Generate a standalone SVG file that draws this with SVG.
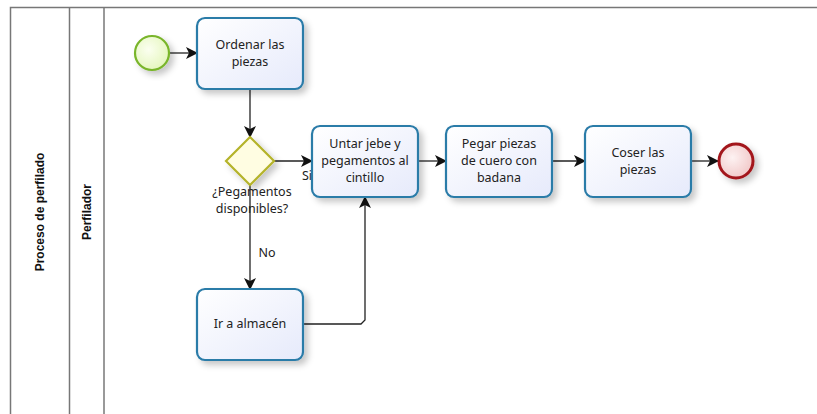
<svg xmlns="http://www.w3.org/2000/svg" width="817" height="414" viewBox="0 0 817 414">
<defs>
<linearGradient id="tg" x1="0" y1="0" x2="1" y2="1"><stop offset="0" stop-color="#ffffff"/><stop offset="1" stop-color="#e6eafb"/></linearGradient>
<radialGradient id="sg" cx="0.4" cy="0.4" r="0.7"><stop offset="0" stop-color="#fbfff0"/><stop offset="1" stop-color="#e2f5b8"/></radialGradient>
<radialGradient id="eg" cx="0.4" cy="0.4" r="0.7"><stop offset="0" stop-color="#fdf2f2"/><stop offset="1" stop-color="#f0c4c4"/></radialGradient>
<filter id="sh" x="-20%" y="-20%" width="150%" height="150%"><feDropShadow dx="4" dy="4" stdDeviation="3" flood-color="#000" flood-opacity="0.22"/></filter>
<marker id="ah" viewBox="0 0 12 12" refX="11" refY="6" markerWidth="12" markerHeight="12" markerUnits="userSpaceOnUse" orient="auto"><path d="M0,0 L12,6 L0,12 L3,6 Z" fill="#111"/></marker>
</defs>
<style>
.task{fill:url(#tg);stroke:#2a7ba8;stroke-width:2.2;filter:url(#sh)}
.t{font-family:"Noto Sans","DejaVu Sans",sans-serif;font-size:12.5px;fill:#222;text-anchor:middle}
.lane{fill:none;stroke:#777;stroke-width:1.5}
.ln{font-family:"Liberation Sans",Arial,sans-serif;font-size:12px;font-weight:bold;fill:#111;text-anchor:middle}
.c{fill:none;stroke:#222;stroke-width:1.3;marker-end:url(#ah)}
</style>
<g id="pool">
<path class="lane" d="M817,7.5 H10.5 V414"/>
<line class="lane" x1="69.5" y1="7.5" x2="69.5" y2="414" stroke="#999"/>
<line class="lane" x1="104" y1="7.5" x2="104" y2="414" stroke="#999"/>
<text class="ln" transform="translate(44,212) rotate(-90)">Proceso de perfilado</text>
<text class="ln" transform="translate(91,212) rotate(-90)">Perfilador</text>
</g>
<g id="connectors">
<line class="c" x1="170" y1="53" x2="197" y2="53"/>
<line class="c" x1="250" y1="89" x2="250" y2="137"/>
<line class="c" x1="274" y1="161" x2="312" y2="161"/>
<line class="c" x1="418" y1="161" x2="446" y2="161"/>
<line class="c" x1="552" y1="161" x2="585" y2="161"/>
<line class="c" x1="691" y1="161" x2="718" y2="161"/>
<line class="c" x1="250" y1="185" x2="250" y2="289"/>
<path class="c" d="M303,324 H361 L365,320 V197"/>
<text class="t" x="307" y="180">Si</text>
<text class="t" x="267" y="257">No</text>
</g>
<g id="start"><circle cx="152" cy="53" r="17" fill="url(#sg)" stroke="#79b52a" stroke-width="2.2" filter="url(#sh)"/></g>
<g id="ordenar"><rect class="task" x="197" y="18" width="106" height="71" rx="8"/><text class="t" x="250" y="49">Ordenar  las</text><text class="t" x="250" y="66">piezas</text></g>
<g id="gateway"><polygon points="250,137 274,161 250,185 226,161" fill="#fffde2" stroke="#b4b32a" stroke-width="2.2" filter="url(#sh)"/><text class="t" x="252" y="196">¿Pegamentos</text><text class="t" x="252" y="213">disponibles?</text></g>
<g id="untar"><rect class="task" x="312" y="126" width="106" height="71" rx="8"/><text class="t" x="365" y="148">Untar  jebe y</text><text class="t" x="365" y="165">pegamentos al</text><text class="t" x="365" y="182">cintillo</text></g>
<g id="pegar"><rect class="task" x="446" y="126" width="106" height="71" rx="8"/><text class="t" x="499" y="148">Pegar piezas</text><text class="t" x="499" y="165">de cuero con</text><text class="t" x="499" y="182">badana</text></g>
<g id="coser"><rect class="task" x="585" y="126" width="106" height="71" rx="8"/><text class="t" x="638" y="157">Coser las</text><text class="t" x="638" y="174">piezas</text></g>
<g id="end"><circle cx="736" cy="161" r="17" fill="url(#eg)" stroke="#a3181c" stroke-width="3" filter="url(#sh)"/></g>
<g id="almacen"><rect class="task" x="197" y="289" width="106" height="71" rx="8"/><text class="t" x="250" y="328">Ir a almacén</text></g>
</svg>
